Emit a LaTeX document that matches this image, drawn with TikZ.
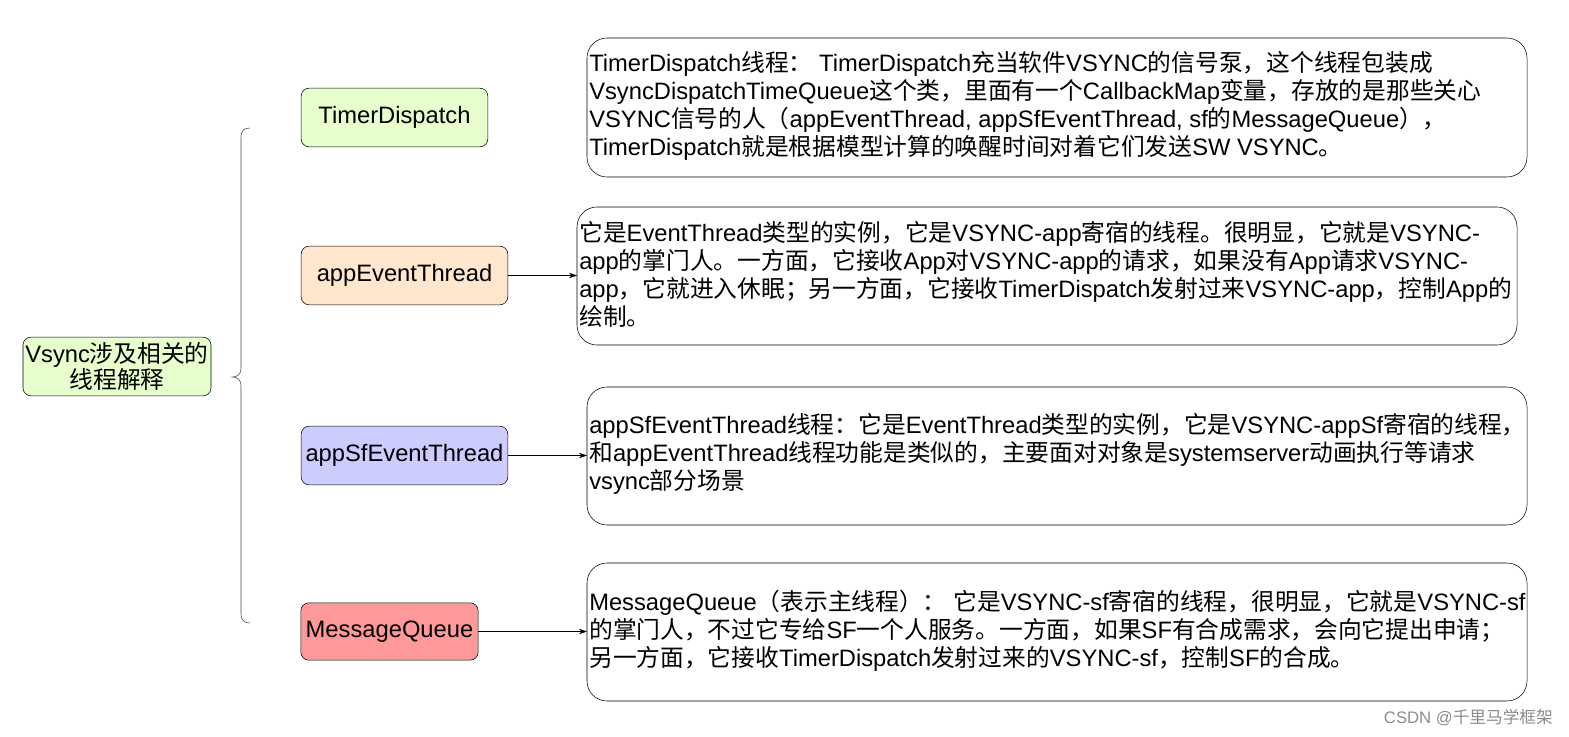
\documentclass[tikz,border=0pt]{standalone}
\usepackage{fontspec}
\setmainfont{Liberation Sans}
\newfontfamily\cjk{Noto Sans CJK SC}
\newfontfamily\latn{Liberation Sans}
\XeTeXinterchartokenstate=1
\newXeTeXintercharclass\cjkclass
\count255="4E00 \loop \XeTeXcharclass\count255=\cjkclass \ifnum\count255<"9FFF \advance\count255 1 \repeat
\count255="3000 \loop \XeTeXcharclass\count255=\cjkclass \ifnum\count255<"303F \advance\count255 1 \repeat
\count255="FF00 \loop \XeTeXcharclass\count255=\cjkclass \ifnum\count255<"FFEF \advance\count255 1 \repeat
\XeTeXinterchartoks 0 \cjkclass={\cjk}
\XeTeXinterchartoks 4095 \cjkclass={\cjk}
\XeTeXinterchartoks \cjkclass 0={\latn}
\XeTeXinterchartoks \cjkclass 4095={\latn}
\usetikzlibrary{arrows.meta}
\definecolor{cgreen}{HTML}{E6FFCC}
\definecolor{corange}{HTML}{FFE6CC}
\definecolor{cblue}{HTML}{CCCCFF}
\definecolor{cred}{HTML}{FF9999}
\begin{document}
\begin{tikzpicture}[x=0.75pt,y=-0.75pt,
  box/.style={draw,rounded corners=6pt,inner sep=0pt,align=center,font=\fontsize{17.8}{20}\selectfont},
  desc/.style={draw,rounded corners=15pt},
  txt/.style={anchor=west,align=left,inner sep=0pt,font=\fontsize{17.8}{21}\selectfont},
  arr/.style={-{Stealth[length=6pt,width=4pt]}}]
\useasboundingbox (0,0) rectangle (1569,737);
\node[box,fill=cgreen,minimum width=141pt,minimum height=44pt] (root) at (117,366.5) {Vsync涉及相关的\\线程解释};
\node[box,fill=cgreen,minimum width=140pt,minimum height=44pt] (td) at (394.5,117.5) {TimerDispatch};
\node[box,fill=corange,minimum width=155pt,minimum height=44pt] (ae) at (404.5,275.5) {appEventThread};
\node[box,fill=cblue,minimum width=155pt,minimum height=44pt] (ase) at (404.5,455.5) {appSfEventThread};
\node[box,fill=cred,minimum width=133pt,minimum height=43pt] (mq) at (389.5,631.5) {MessageQueue};
\draw[desc] (587,38) rectangle (1527,177);
\draw[desc] (577,207) rectangle (1517,345);
\draw[desc] (587,387) rectangle (1527,525);
\draw[desc] (587,563) rectangle (1527,701);
\node[txt] (t1) at (589,106) {TimerDispatch线程： TimerDispatch充当软件VSYNC的信号泵，这个线程包装成\\VsyncDispatchTimeQueue这个类，里面有一个CallbackMap变量，存放的是那些关心\\VSYNC信号的人（appEventThread, appSfEventThread, sf的MessageQueue），\\TimerDispatch就是根据模型计算的唤醒时间对着它们发送SW VSYNC。};
\node[txt] (t2) at (579,274) {它是EventThread类型的实例，它是VSYNC-app寄宿的线程。很明显，它就是VSYNC-\\app的掌门人。一方面，它接收App对VSYNC-app的请求，如果没有App请求VSYNC-\\app，它就进入休眠；另一方面，它接收TimerDispatch发射过来VSYNC-app，控制App的\\绘制。};
\node[txt] (t3) at (589,454) {appSfEventThread线程：它是EventThread类型的实例，它是VSYNC-appSf寄宿的线程，\\和appEventThread线程功能是类似的，主要面对对象是systemserver动画执行等请求\\vsync部分场景};
\node[txt] (t4) at (589,631) {MessageQueue（表示主线程）： 它是VSYNC-sf寄宿的线程，很明显，它就是VSYNC-sf\\的掌门人，不过它专给SF一个人服务。一方面，如果SF有合成需求，会向它提出申请；\\另一方面，它接收TimerDispatch发射过来的VSYNC-sf，控制SF的合成。};
\coordinate (r2) at (577,275.5);
\coordinate (r3) at (587,455.5);
\coordinate (r4) at (587,631.5);
\draw[arr] (ae.east) -- (r2);
\draw[arr] (ase.east) -- (r3);
\draw[arr] (mq.east) -- (r4);
\coordinate (brace) at (232,377);
\draw[draw=black!70] (250,128) .. controls (244,128) and (241,131) .. (241,137) -- (241,368) .. controls (241,374) and (238,377) .. (brace) .. controls (238,377) and (241,380) .. (241,386) -- (241,614) .. controls (241,620) and (244,623) .. (250,623);
\node[anchor=east,text=black!45,inner sep=0pt,font=\fontsize{12.5}{14}\selectfont] (wm) at (1553,718) {CSDN @千里马学框架};
\end{tikzpicture}
\end{document}
